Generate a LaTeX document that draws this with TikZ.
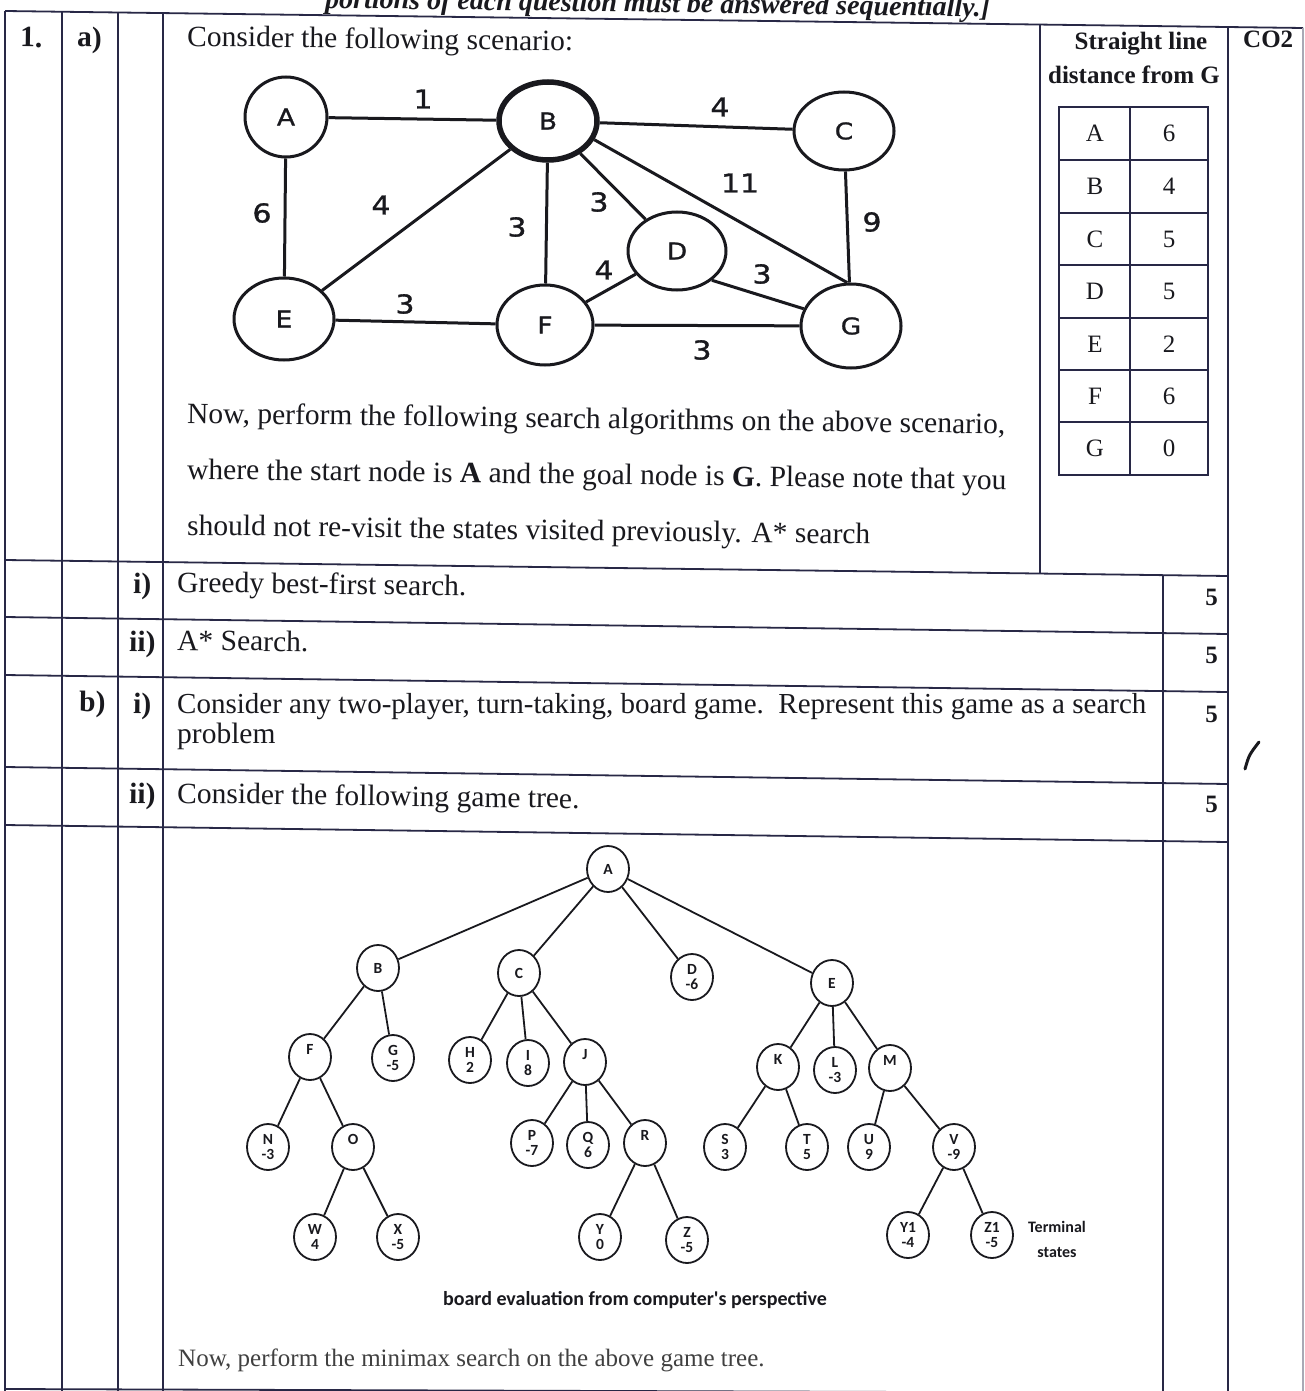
\documentclass[tikz,border=0pt]{standalone}
\usepackage{fontspec}
\setmainfont{Liberation Serif}
\newfontfamily\graphfont{DejaVu Sans}[FakeStretch=1.15,FakeBold=1.2]
\newfontfamily\treefont{Carlito}
\usetikzlibrary{shapes.geometric}
\definecolor{ink}{RGB}{25,25,30}
\definecolor{rulec}{RGB}{40,40,70}
\begin{document}
\begin{tikzpicture}[x=1pt,y=-1pt,
  rl/.style={draw=rulec, line width=1.8pt},
  txt/.style={anchor=base west, inner sep=0pt, text=ink, rotate=-0.75, font=\fontsize{29.5}{32}\selectfont},
  lbl/.style={anchor=base west, inner sep=0pt, text=ink, rotate=-0.75, font=\fontsize{29.5}{32}\selectfont\bfseries},
  marksfive/.style={anchor=base east, inner sep=0pt, text=ink, font=\fontsize{25}{26}\selectfont\bfseries},
  hcell/.style={inner sep=0pt, text=ink, font=\fontsize{25}{26}\selectfont},
  hhead/.style={anchor=base, inner sep=0pt, text=ink, font=\fontsize{25}{26}\selectfont\bfseries},
  gnode/.style={ellipse, draw=ink, line width=3pt, inner sep=0pt, text=ink, font=\graphfont\fontsize{23}{23}\selectfont},
  gnum/.style={inner sep=0pt, text=ink, font=\graphfont\fontsize{26}{26}\selectfont},
  gedge/.style={draw=ink, line width=3pt},
  tnode/.style={ellipse, draw=ink, line width=1.8pt, minimum width=42pt, minimum height=46pt, inner sep=0pt, align=center, text=ink, font=\treefont\bfseries\fontsize{15.5}{15}\selectfont},
  tedge/.style={draw=ink, line width=1.8pt},
  tcap/.style={inner sep=0pt, text=ink, font=\treefont\bfseries\fontsize{20}{21}\selectfont}
]
\useasboundingbox (0,0) rectangle (1305,1391);
\fill[white] (0,0) rectangle (1305,1391);

% header (cut off at the top edge, as in the scan)
\node[anchor=base west, inner sep=0pt, text=ink, rotate=-0.75, font=\fontsize{28}{30}\selectfont\bfseries\itshape] (hdr) at (325,8) {portions of each question must be answered sequentially.]};

% table rules
\draw[rl] (5,11) -- (1303,28);
\draw[rl] (5,560) -- (1228,576);
\draw[rl] (5,617) -- (1228,634);
\draw[rl] (5,675) -- (1228,692);
\draw[rl] (5,767) -- (1228,784);
\draw[rl] (5,825) -- (1228,842);
\draw[rl] (5,1389) -- (1228,1393);
\draw[rl] (5,11) -- (5,1391);
\draw[rl] (62,12) -- (62,1391);
\draw[rl] (118,12) -- (118,1391);
\draw[rl] (163,13) -- (163,1391);
\draw[rl] (1040,24) -- (1040,573.5);
\draw[rl] (1163,575) -- (1163,1391);
\draw[rl] (1228,27) -- (1228,1391);
\draw[draw=rulec!40, line width=1.2pt] (1303,28) -- (1303,1391);

% question a)
\node[lbl] (q1) at (20,47) {1.};
\node[lbl] (qa) at (77,47) {a)};
\node[txt] (ta1) at (187,46) {Consider the following scenario:};
\node[txt] (ta2) at (187,423) {Now, perform the following search algorithms on the above scenario,};
\node[txt] (ta3) at (187,479) {where the start node is \textbf{A} and the goal node is \textbf{G}. Please note that you};
\node[txt] (ta4) at (187,535) {should not re-visit the states visited previously. A* search};

% heuristic table
\node[hhead] (sh1) at (1141,50) {Straight line};
\node[hhead] (sh2) at (1134,84) {distance from G};
\node[anchor=base west, inner sep=0pt, text=ink, font=\fontsize{25}{26}\selectfont\bfseries] (co) at (1243,48) {CO2};
\draw[rl] (1059,107) rectangle (1208,475);
\draw[rl] (1130,107) -- (1130,475);
\foreach \yy in {160,213,265,318,370,422} \draw[rl] (1059,\yy) -- (1208,\yy);
\node[hcell] (hA) at (1095,133.5) {A}; \node[hcell] (vA) at (1169,133.5) {6};
\node[hcell] (hB) at (1095,186.5) {B}; \node[hcell] (vB) at (1169,186.5) {4};
\node[hcell] (hC) at (1095,239) {C}; \node[hcell] (vC) at (1169,239) {5};
\node[hcell] (hD) at (1095,291.5) {D}; \node[hcell] (vD) at (1169,291.5) {5};
\node[hcell] (hE) at (1095,344) {E}; \node[hcell] (vE) at (1169,344) {2};
\node[hcell] (hF) at (1095,396) {F}; \node[hcell] (vF) at (1169,396) {6};
\node[hcell] (hG) at (1095,448.5) {G}; \node[hcell] (vG) at (1169,448.5) {0};

% graph
\node[gnode, minimum width=82pt, minimum height=80pt] (gA) at (286,117) {A};
\node[gnode, minimum width=98pt, minimum height=78pt, line width=5.5pt] (gB) at (548,121) {B};
\node[gnode, minimum width=100pt, minimum height=78pt] (gC) at (844,131) {C};
\node[gnode, minimum width=98pt, minimum height=78pt] (gD) at (677,251) {D};
\node[gnode, minimum width=100pt, minimum height=82pt] (gE) at (284,319) {E};
\node[gnode, minimum width=96pt, minimum height=80pt] (gF) at (545,325) {F};
\node[gnode, minimum width=100pt, minimum height=84pt] (gG) at (851,326) {G};
\draw[gedge] (gA) -- (gB);
\draw[gedge] (gB) -- (gC);
\draw[gedge] (gA) -- (gE);
\draw[gedge] (gE) -- (gB);
\draw[gedge] (gB) -- (gF);
\draw[gedge] (gB) -- (gD);
\draw[gedge] (gB.-22) -- (gG.95);
\draw[gedge] (gC) -- (gG);
\draw[gedge] (gF) -- (gD);
\draw[gedge] (gD.-40) -- (gG.160);
\draw[gedge] (gE) -- (gF);
\draw[gedge] (gF) -- (gG);
\node[gnum] (w1) at (423,99) {1};
\node[gnum] (w2) at (720,107) {4};
\node[gnum] (w3) at (262,213) {6};
\node[gnum] (w4) at (381,205) {4};
\node[gnum] (w5) at (517,227) {3};
\node[gnum] (w6) at (599,202) {3};
\node[gnum] (w7) at (740,183) {11};
\node[gnum] (w8) at (872,222) {9};
\node[gnum] (w9) at (604,270) {4};
\node[gnum] (w10) at (762,274) {3};
\node[gnum] (w11) at (405,304) {3};
\node[gnum] (w12) at (702,350) {3};

% rows
\node[lbl] (ri) at (133,593) {i)};
\node[txt] (rit) at (177,592) {Greedy best-first search.};
\node[marksfive] (m1) at (1218,605) {5};
\node[lbl] (rii) at (129,651) {ii)};
\node[txt] (riit) at (177,650) {A* Search.};
\node[marksfive] (m2) at (1218,663) {5};
\node[lbl] (rb) at (79,711) {b)};
\node[lbl] (rbi) at (133,713) {i)};
\node[txt, rotate=0.75, font=\fontsize{29}{31}\selectfont] (rbit) at (177,713) {Consider any two-player, turn-taking, board game.\ \ Represent this game as a search};
\node[txt, rotate=0.75] (rbit2) at (177,743) {problem};
\node[marksfive] (m3) at (1218,722) {5};
\node[lbl] (rbii) at (129,803) {ii)};
\node[txt] (rbiit) at (177,803) {Consider the following game tree.};
\node[marksfive] (m4) at (1218,812) {5};
\draw[ink, line width=3pt, line cap=round] (1245,769) .. controls (1249,755) .. (1259,742);

% game tree
\node[tnode] (tA) at (608,869) {A};
\node[tnode] (tB) at (378,968) {B};
\node[tnode] (tC) at (519,973) {C};
\node[tnode] (tD) at (692,977) {D\\-6};
\node[tnode] (tE) at (832,983) {E};
\node[tnode] (tF) at (310,1057) {F\\\phantom{0}};
\node[tnode] (tG) at (393,1058) {G\\-5};
\node[tnode] (tH) at (470,1060) {H\\2};
\node[tnode] (tI) at (528,1063) {I\\8};
\node[tnode] (tJ) at (585,1062) {J\\\phantom{0}};
\node[tnode] (tK) at (778,1067) {K\\\phantom{0}};
\node[tnode] (tL) at (835,1070) {L\\-3};
\node[tnode] (tM) at (890,1068) {M\\\phantom{0}};
\node[tnode] (tN) at (268,1147) {N\\-3};
\node[tnode] (tO) at (353,1147) {O\\\phantom{0}};
\node[tnode] (tP) at (532,1143) {P\\-7};
\node[tnode] (tQ) at (588,1145) {Q\\6};
\node[tnode] (tR) at (645,1143) {R\\\phantom{0}};
\node[tnode] (tS) at (725,1147) {S\\3};
\node[tnode] (tT) at (807,1147) {T\\5};
\node[tnode] (tU) at (869,1147) {U\\9};
\node[tnode] (tV) at (954,1147) {V\\-9};
\node[tnode] (tW) at (315,1237) {W\\4};
\node[tnode] (tX) at (398,1237) {X\\-5};
\node[tnode] (tY) at (600,1237) {Y\\0};
\node[tnode] (tZ) at (687,1240) {Z\\-5};
\node[tnode] (tY1) at (908,1235) {Y1\\-4};
\node[tnode] (tZ1) at (992,1235) {Z1\\-5};
\foreach \a/\b in {tA/tB,tA/tC,tA/tD,tA/tE,tB/tF,tB/tG,tC/tH,tC/tI,tC/tJ,tE/tK,tE/tL,tE/tM,tF/tN,tF/tO,tJ/tP,tJ/tQ,tJ/tR,tK/tS,tK/tT,tM/tU,tM/tV,tO/tW,tO/tX,tR/tY,tR/tZ,tV/tY1,tV/tZ1}
  \draw[tedge] (\a) -- (\b);
\node[inner sep=0pt, text=ink, align=center, font=\treefont\bfseries\fontsize{16}{25}\selectfont] (term) at (1057,1239) {Terminal\\states};
\node[tcap] (cap) at (635,1300) {board evaluation from computer's perspective};

\node[anchor=base west, inner sep=0pt, text=black!75, font=\fontsize{25}{27}\selectfont] (last) at (178,1366) {Now, perform the minimax search on the above game tree.};
\end{tikzpicture}
\end{document}
